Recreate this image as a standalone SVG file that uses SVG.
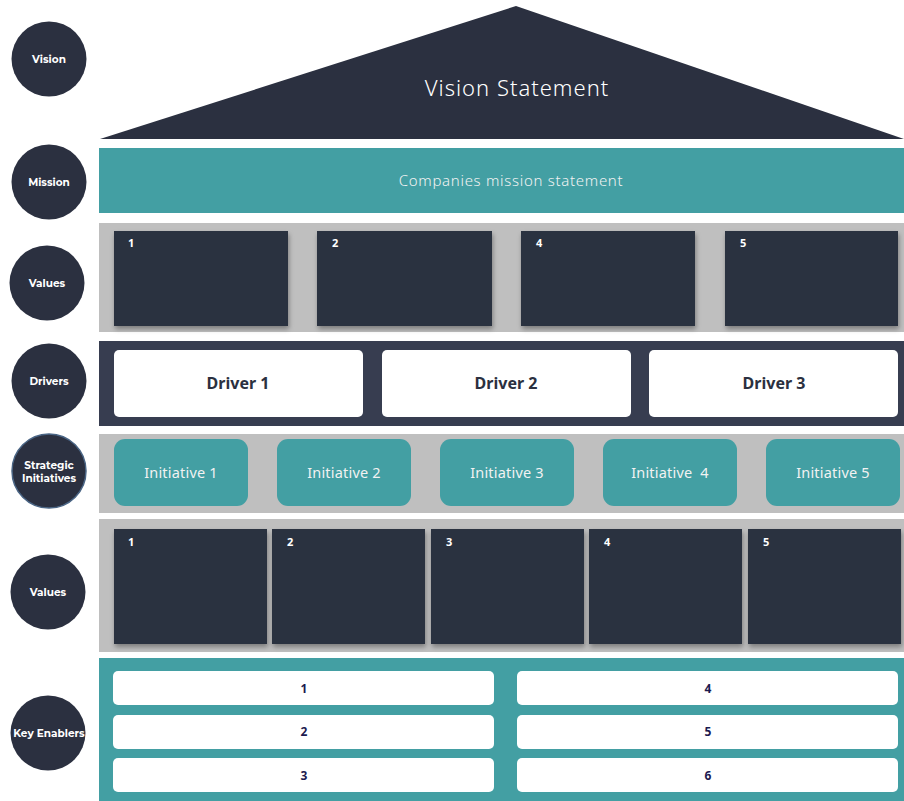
<svg xmlns="http://www.w3.org/2000/svg" width="904" height="801" viewBox="0 0 904 801">
<defs>
<filter id="sh" x="-10%" y="-10%" width="125%" height="130%">
<feDropShadow dx="1" dy="3" stdDeviation="2.5" flood-color="#000" flood-opacity="0.35"/>
</filter>
<style>
.dark{fill:#2b3040}
.teal{fill:#439fa3}
.gray{fill:#bfbfbf}
.circ{fill:#2b3040}
.clab{font-family:"Montserrat","Noto Sans","Liberation Sans",sans-serif;font-size:10.5px;font-weight:bold;fill:#ffffff;text-anchor:middle}
.num{font-family:"Noto Sans","Liberation Sans",sans-serif;font-size:11px;font-weight:bold;fill:#ffffff}
.drv{font-family:"Noto Sans","Liberation Sans",sans-serif;font-size:16px;font-weight:bold;fill:#2b3040;text-anchor:middle}
.ini{font-family:"Noto Sans","Liberation Sans",sans-serif;font-size:14.5px;fill:#f2f2f2;text-anchor:middle;letter-spacing:0.2px}
.ken{font-family:"Noto Sans","Liberation Sans",sans-serif;font-size:12px;font-weight:bold;fill:#1c1a4f;text-anchor:middle}
</style>
</defs>
<rect width="904" height="801" fill="#ffffff"/>

<g id="labels">
<g id="c-vision"><circle class="circ" cx="49" cy="59" r="37.5"/><text class="clab" x="49" y="63">Vision</text></g>
<g id="c-mission"><circle class="circ" cx="49" cy="182" r="37.5"/><text class="clab" x="49" y="186">Mission</text></g>
<g id="c-values1"><circle class="circ" cx="47" cy="283" r="37.5"/><text class="clab" x="47" y="287">Values</text></g>
<g id="c-drivers"><circle class="circ" cx="49" cy="381" r="37.5"/><text class="clab" x="49" y="385">Drivers</text></g>
<g id="c-strategic"><circle class="circ" cx="49" cy="471" r="37" stroke="#4a6585" stroke-width="1.5"/><text class="clab" x="49" y="469">Strategic</text><text class="clab" x="49" y="482">Initiatives</text></g>
<g id="c-values2"><circle class="circ" cx="48" cy="592" r="37.5"/><text class="clab" x="48" y="596">Values</text></g>
<g id="c-enablers"><circle class="circ" cx="48" cy="733" r="37.5"/><text class="clab" x="49" y="737" font-size="10px">Key Enablers</text></g>
</g>

<g id="vision">
<polygon class="dark" points="516,6 904,139 100,139"/>
<text x="517" y="96" font-family="Noto Sans, Liberation Sans, sans-serif" font-size="22" font-weight="300" fill="#ffffff" text-anchor="middle" letter-spacing="1">Vision Statement</text>
</g>

<g id="mission">
<rect class="teal" x="99" y="148" width="805" height="65"/>
<text x="511" y="186" font-family="Noto Sans, Liberation Sans, sans-serif" font-size="15" font-weight="300" fill="#f2f2f2" text-anchor="middle" letter-spacing="0.7">Companies mission statement</text>
</g>

<g id="values1">
<rect class="gray" x="99" y="223" width="805" height="109"/>
<rect class="dark" x="114" y="231" width="174" height="95" filter="url(#sh)"/>
<rect class="dark" x="317" y="231" width="175" height="95" filter="url(#sh)"/>
<rect class="dark" x="521" y="231" width="174" height="95" filter="url(#sh)"/>
<rect class="dark" x="725" y="231" width="173" height="95" filter="url(#sh)"/>
<text class="num" x="128" y="247">1</text>
<text class="num" x="332" y="247">2</text>
<text class="num" x="536" y="247">4</text>
<text class="num" x="740" y="247">5</text>
</g>

<g id="drivers">
<rect x="99" y="341" width="805" height="85" fill="#373d50"/>
<rect x="114" y="350" width="249" height="67" rx="5" fill="#ffffff"/>
<rect x="382" y="350" width="249" height="67" rx="5" fill="#ffffff"/>
<rect x="649" y="350" width="249" height="67" rx="5" fill="#ffffff"/>
<text class="drv" x="238" y="389">Driver 1</text>
<text class="drv" x="506" y="389">Driver 2</text>
<text class="drv" x="774" y="389">Driver 3</text>
</g>

<g id="initiatives">
<rect class="gray" x="99" y="434" width="805" height="79"/>
<rect class="teal" x="114" y="439" width="134" height="67" rx="11"/>
<rect class="teal" x="277" y="439" width="134" height="67" rx="11"/>
<rect class="teal" x="440" y="439" width="134" height="67" rx="11"/>
<rect class="teal" x="603" y="439" width="134" height="67" rx="11"/>
<rect class="teal" x="766" y="439" width="134" height="67" rx="11"/>
<text class="ini" x="181" y="478">Initiative 1</text>
<text class="ini" x="344" y="478">Initiative 2</text>
<text class="ini" x="507" y="478">Initiative 3</text>
<text class="ini" x="670" y="478" xml:space="preserve">Initiative  4</text>
<text class="ini" x="833" y="478">Initiative 5</text>
</g>

<g id="values2">
<rect class="gray" x="99" y="519" width="805" height="133"/>
<rect class="dark" x="114" y="529" width="153" height="115" filter="url(#sh)"/>
<rect class="dark" x="272" y="529" width="153" height="115" filter="url(#sh)"/>
<rect class="dark" x="431" y="529" width="153" height="115" filter="url(#sh)"/>
<rect class="dark" x="589" y="529" width="153" height="115" filter="url(#sh)"/>
<rect class="dark" x="748" y="529" width="153" height="115" filter="url(#sh)"/>
<text class="num" x="128" y="546">1</text>
<text class="num" x="287" y="546">2</text>
<text class="num" x="446" y="546">3</text>
<text class="num" x="604" y="546">4</text>
<text class="num" x="763" y="546">5</text>
</g>

<g id="enablers">
<rect class="teal" x="99" y="658" width="805" height="143"/>
<rect x="113" y="671" width="381" height="34" rx="5" fill="#ffffff"/>
<rect x="113" y="715" width="381" height="34" rx="5" fill="#ffffff"/>
<rect x="113" y="758" width="381" height="34" rx="5" fill="#ffffff"/>
<rect x="517" y="671" width="381" height="34" rx="5" fill="#ffffff"/>
<rect x="517" y="715" width="381" height="34" rx="5" fill="#ffffff"/>
<rect x="517" y="758" width="381" height="34" rx="5" fill="#ffffff"/>
<text class="ken" x="304" y="693">1</text>
<text class="ken" x="304" y="736">2</text>
<text class="ken" x="304" y="780">3</text>
<text class="ken" x="708" y="693">4</text>
<text class="ken" x="708" y="736">5</text>
<text class="ken" x="708" y="780">6</text>
</g>

<g id="connectors"></g>
</svg>
